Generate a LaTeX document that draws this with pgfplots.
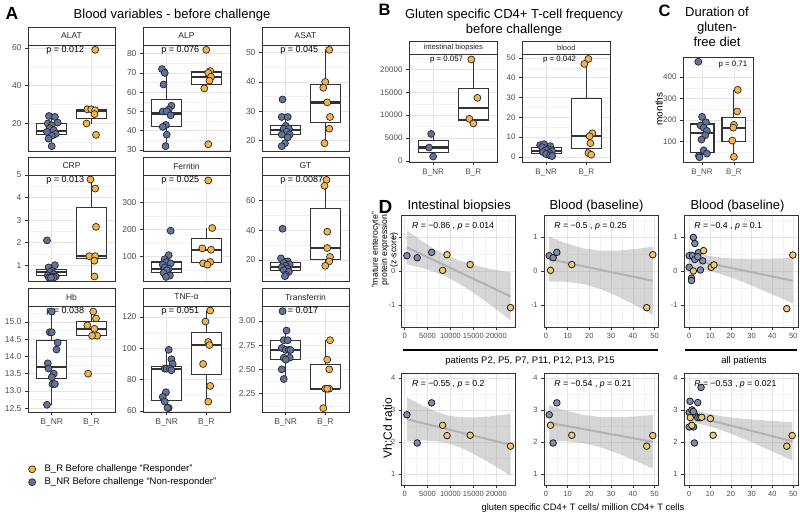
\documentclass[border=0pt]{standalone}
\usepackage{fontspec}
\setmainfont{Liberation Sans}
\usepackage{pgfplots}
\pgfplotsset{compat=1.18}
\definecolor{ornA}{RGB}{246,180,70}
\definecolor{bluA}{RGB}{98,114,158}
\definecolor{ornD}{RGB}{240,200,112}
\definecolor{bluD}{RGB}{128,141,175}
\definecolor{frame}{RGB}{51,51,51}
\definecolor{tlab}{RGB}{77,77,77}
\newcommand{\fs}[2]{\fontsize{#1}{#2}\selectfont}
\newcommand{\strip}[3]{\draw[draw=frame, line width=0.9pt, fill=white] (rel axis cs:0,1) rectangle ([yshift=#2]rel axis cs:1,1); \node[font=#3, text=black!85] at ([yshift=#2/2]rel axis cs:0.5,1) {#1};}
\newcommand{\pval}[4]{\node[anchor=west, font=#4] at (rel axis cs:#2,#3) {p = #1};}
\newcommand{\rtxt}[2]{\node[anchor=west, font=\fs{8.7}{10}] at (rel axis cs:0.06,0.9) {\textit{R} = −#1 , \textit{p} = #2};}
% box: left, centre, right, lower whisker, Q1, median, Q3, upper whisker
\newcommand{\mbx}[8]{%
\addplot[mb] coordinates {(#2,#4) (#2,#5)};
\addplot[mb] coordinates {(#2,#7) (#2,#8)};
\addplot[mb, fill=white] coordinates {(#1,#5) (#3,#5) (#3,#7) (#1,#7)} --cycle;
\addplot[mb, line width=2.3pt] coordinates {(#1,#6) (#3,#6)};}
\newcommand{\bA}[5]{\mbx{0.625}{1}{1.375}{#1}{#2}{#3}{#4}{#5}}
\newcommand{\bB}[5]{\mbx{1.625}{2}{2.375}{#1}{#2}{#3}{#4}{#5}}
\pgfplotsset{
 gg/.style={scale only axis, anchor=north west, clip=false,
   axis line style={draw=frame, line width=0.9pt},
   tick style={draw=frame, line width=0.6pt}, major tick length=3pt, minor tick length=0pt,
   tick align=outside, xtick pos=left, ytick pos=left,
   grid=both, major grid style={draw=black!10, line width=0.6pt}, minor grid style={draw=black!5, line width=0.35pt},
   ticklabel style={color=tlab},
   /pgf/number format/assume math mode=true,
   /pgf/number format/set thousands separator={},
   scaled ticks=false},
 af/.style={gg, width=87pt, height=106pt, xmin=0.4, xmax=2.6, xtick={1,2}, xticklabels={B\_NR,B\_R},
   ticklabel style={font=\fs{8.5}{10}}},
 anox/.style={xticklabels={}, xtick style={draw=none}},
 mb/.style={draw=frame, line width=1.1pt, forget plot},
 ptA/.style={only marks, mark=*, mark size=3.5pt, mark options={fill=#1, draw=black!85, line width=0.7pt}, forget plot},
 ptD/.style={only marks, mark=*, mark size=3.3pt, mark options={fill=#1, draw=black!90, line width=0.8pt}, forget plot},
 band/.style={fill=black!40, fill opacity=0.4, draw=none, forget plot},
 rline/.style={draw=black!30, line width=2pt, forget plot},
 dt/.style={gg, width=114pt, height=112pt, ymin=-1.65, ymax=1.65, ytick={-1,0,1}, minor ytick={-1.5,-0.5,0.5,1.5},
   ticklabel style={font=\fs{7.5}{9}}},
 db/.style={gg, width=114pt, height=112pt, ymin=0.66, ymax=4.15, ytick={1,2,3,4}, minor ytick={1.5,2.5,3.5},
   ticklabel style={font=\fs{7.5}{9}}},
 dx1/.style={xmin=-630, xmax=24230, xtick={0,5000,10000,15000,20000}, minor xtick={2500,7500,12500,17500,22500}},
 dx2/.style={xmin=-0.9, xmax=51.6, xtick={0,10,20,30,40,50}, minor xtick={5,15,25,35,45}},
 dx3/.style={xmin=-2.5, xmax=52.3, xtick={0,10,20,30,40,50}, minor xtick={5,15,25,35,45}},
}
\begin{document}
\begin{tikzpicture}
% ================= PANEL A =================
% ALAT
\begin{axis}[af, anox, at={(28pt,-45pt)}, ymin=5.45, ymax=61.55, ytick={20,40,60}, minor ytick={10,30,50}]
\bA{8}{14}{16}{20}{24}
\bB{20}{22.5}{26.5}{27.5}{27.5}
\addplot[ptA=bluA] coordinates {(0.93,24) (1.08,23.5) (1.15,20.5) (0.9,20) (1.0,19) (0.95,17.5) (1.05,16.5) (0.88,15.5) (1.1,14.5) (1.0,13.5) (0.92,12) (1.0,8)};
\addplot[ptA=ornA] coordinates {(2.1,59) (1.9,27.5) (2.0,27.5) (2.1,27) (2.08,25) (1.88,20) (2.12,14)};
\strip{ALAT}{18pt}{\fs{8.5}{10}}
\pval{0.012}{0.17}{0.953}{\fs{9}{10}}
\end{axis}
% ALP
\begin{axis}[af, anox, at={(143pt,-45pt)}, ymin=29.5, ymax=84.5, ytick={30,40,50,60,70,80}, minor ytick={35,45,55,65,75}]
\bA{32}{42}{49}{56}{72}
\bB{62}{64}{68}{70.5}{71}
\addplot[ptA=bluA] coordinates {(0.88,72) (0.95,70) (0.92,64) (1.12,53) (1.05,51) (0.9,50) (1.0,50) (1.1,48) (0.98,43) (0.9,42) (1.0,38) (0.97,32)};
\addplot[ptA=ornA] coordinates {(2.0,82) (2.1,71) (2.05,70) (2.12,68) (2.08,66) (1.95,62) (2.05,33)};
\strip{ALP}{18pt}{\fs{8.5}{10}}
\pval{0.076}{0.17}{0.953}{\fs{9}{10}}
\end{axis}
% ASAT
\begin{axis}[af, anox, at={(262pt,-45pt)}, ymin=16.35, ymax=52.65, ytick={20,30,40,50}, minor ytick={25,35,45}]
\bA{18}{22}{23.5}{25}{28}
\bB{19}{26}{33}{39}{51}
\addplot[ptA=bluA] coordinates {(0.92,34) (0.9,28) (1.05,28) (1.0,25) (0.95,24) (1.08,24) (1.02,23) (0.9,22) (1.1,22) (1.05,21) (0.98,19) (0.9,18)};
\addplot[ptA=ornA] coordinates {(2.1,51) (2.0,40) (1.95,38) (2.05,33) (2.12,28) (2.1,24) (1.98,19)};
\strip{ASAT}{18pt}{\fs{8.5}{10}}
\pval{0.045}{0.17}{0.953}{\fs{9}{10}}
\end{axis}
% CRP
\begin{axis}[af, anox, at={(28pt,-175pt)}, ymin=0.3, ymax=5.0, ytick={1,2,3,4,5}, minor ytick={1.5,2.5,3.5,4.5}]
\bA{0.45}{0.55}{0.7}{0.82}{1.0}
\bB{0.5}{1.3}{1.4}{3.55}{4.8}
\addplot[ptA=bluA] coordinates {(0.88,2.1) (1.08,1.0) (0.92,0.9) (1.0,0.75) (0.95,0.7) (1.05,0.6) (0.9,0.55) (1.1,0.5) (1.0,0.5) (0.93,0.45) (1.05,0.45) (0.98,0.45)};
\addplot[ptA=ornA] coordinates {(1.98,4.8) (2.1,4.4) (2.12,2.7) (1.95,1.4) (2.1,1.4) (2.08,1.2) (2.08,0.5)};
\strip{CRP}{18pt}{\fs{8.5}{10}}
\pval{0.013}{0.17}{0.953}{\fs{9}{10}}
\end{axis}
% Ferritin
\begin{axis}[af, anox, at={(143pt,-175pt)}, ymin=10, ymax=400, ytick={100,200,300}, minor ytick={50,150,250,350}]
\bA{25}{40}{55}{80}{105}
\bB{70}{77}{125}{168}{205}
\addplot[ptA=bluA] coordinates {(1.1,195) (1.05,105) (0.95,90) (1.0,80) (1.1,75) (0.9,70) (0.95,60) (1.05,55) (1.0,50) (0.92,40) (1.08,30) (0.98,25)};
\addplot[ptA=ornA] coordinates {(2.05,380) (2.15,205) (1.9,130) (2.12,125) (2.1,80) (1.92,75) (2.03,70)};
\strip{Ferritin}{18pt}{\fs{8.5}{10}}
\pval{0.025}{0.17}{0.953}{\fs{9}{10}}
\end{axis}
% GT
\begin{axis}[af, anox, at={(262pt,-175pt)}, ymin=5.75, ymax=77.25, ytick={20,40,60}, minor ytick={10,30,50,70}]
\bA{9}{13}{15}{18}{21}
\bB{16}{20.5}{28}{54.5}{74}
\addplot[ptA=bluA] coordinates {(0.92,41) (0.88,21) (1.05,19) (0.95,18) (1.1,17) (1.0,16) (0.9,15) (1.05,14) (0.95,13) (1.08,12) (1.0,10) (0.98,9)};
\addplot[ptA=ornA] coordinates {(2.03,74) (1.98,70) (2.05,39) (2.05,28) (2.12,22) (2.1,19) (2.0,16)};
\strip{GT}{18pt}{\fs{8.5}{10}}
\pval{0.0087}{0.17}{0.953}{\fs{9}{10}}
\end{axis}
% Hb
\begin{axis}[af, at={(28pt,-306pt)}, ymin=12.39, ymax=15.46, ytick={12.5,13,13.5,14,14.5,15}, minor ytick={12.75,13.25,13.75,14.25,14.75,15.25},
  yticklabel style={/pgf/number format/fixed, /pgf/number format/fixed zerofill, /pgf/number format/precision=1},
  legend style={at={(0.005,-0.48)}, anchor=north west, draw=none, fill=none, font=\fs{9.5}{11}, inner sep=0pt, row sep=0.5pt, column sep=7pt, cells={anchor=west}},
  legend image code/.code={\draw[#1] plot coordinates {(0pt,0pt)};}]
\addlegendimage{only marks, mark=*, mark size=3.5pt, mark options={fill=ornA, draw=black!85, line width=0.7pt}}
\addlegendentry{B\_R Before challenge “Responder”}
\addlegendimage{only marks, mark=*, mark size=3.5pt, mark options={fill=bluA, draw=black!85, line width=0.7pt}}
\addlegendentry{B\_NR Before challenge “Non-responder”}
\bA{12.6}{13.35}{13.7}{14.47}{15.3}
\bB{14.6}{14.6}{14.8}{15.0}{15.3}
\addplot[ptA=bluA] coordinates {(1.0,15.3) (0.95,14.7) (1.0,14.7) (1.15,14.4) (1.12,14.2) (0.9,13.8) (0.92,13.65) (1.05,13.5) (1.0,13.4) (1.02,13.2) (1.08,13.2) (0.88,12.6)};
\addplot[ptA=ornA] coordinates {(2.05,15.3) (2.12,15.1) (1.9,14.9) (2.08,14.8) (2.15,14.6) (2.02,14.6) (1.92,13.5)};
\strip{Hb}{18pt}{\fs{8.5}{10}}
\pval{0.038}{0.17}{0.953}{\fs{9}{10}}
\end{axis}
% TNF
\begin{axis}[af, at={(143pt,-306pt)}, ymin=59.4, ymax=126.9, ytick={60,80,100,120}, minor ytick={70,90,110}]
\bA{62}{67}{87}{88.5}{99}
\bB{66}{83}{102}{110}{124}
\addplot[ptA=bluA] coordinates {(1.05,99) (1.12,93) (1.15,90) (0.95,87) (1.0,87) (1.08,87) (1.12,86) (0.98,72) (0.9,69) (0.95,66) (1.05,62) (1.02,62)};
\addplot[ptA=ornA] coordinates {(2.1,124) (1.98,117) (2.05,104) (2.08,102) (1.92,90) (2.1,76) (2.05,66)};
\strip{TNF-α}{18pt}{\fs{8.5}{10}}
\pval{0.051}{0.17}{0.953}{\fs{9}{10}}
\end{axis}
% Transferrin
\begin{axis}[af, at={(262pt,-306pt)}, ymin=2.06, ymax=3.153, ytick={2.25,2.5,2.75,3}, minor ytick={2.125,2.375,2.625,2.875,3.125},
  yticklabel style={/pgf/number format/fixed, /pgf/number format/fixed zerofill, /pgf/number format/precision=2}]
\bA{2.4}{2.6}{2.7}{2.8}{2.9}
\bB{2.1}{2.3}{2.3}{2.55}{2.8}
\addplot[ptA=bluA] coordinates {(0.92,3.1) (1.02,2.9) (0.95,2.8) (1.05,2.8) (0.9,2.72) (1.0,2.7) (1.08,2.7) (1.12,2.7) (0.95,2.62) (1.1,2.62) (1.0,2.6) (0.9,2.5) (0.95,2.4)};
\addplot[ptA=ornA] coordinates {(2.12,2.8) (2.05,2.6) (2.1,2.5) (2.0,2.3) (2.1,2.3) (2.05,2.3) (1.95,2.1)};
\strip{Transferrin}{18pt}{\fs{8.5}{10}}
\pval{0.017}{0.17}{0.953}{\fs{9}{10}}
\end{axis}
% ================= PANEL B =================
\begin{axis}[af, at={(409pt,-54pt)}, width=88.5pt, height=108pt, ymin=-250, ymax=23400, ytick={0,5000,10000,15000,20000}, minor ytick={2500,7500,12500,17500,22500}, ticklabel style={font=\fs{8}{9.5}}]
\bA{950}{1925}{2900}{4400}{5900}
\bB{8200}{8950}{11500}{15900}{22200}
\addplot[ptA=bluA] coordinates {(0.95,5900) (0.9,2900) (1.0,950)};
\addplot[ptA=ornA] coordinates {(1.95,22200) (2.1,13800) (1.9,9200) (2.0,8200)};
\strip{intestinal biopsies}{13pt}{\fs{7.5}{9}}
\pval{0.057}{0.2}{0.944}{\fs{7.8}{9}}
\end{axis}
\begin{axis}[af, at={(522pt,-54pt)}, width=88.5pt, height=108pt, ymin=-2.5, ymax=52, ytick={0,10,20,30,40,50}, minor ytick={5,15,25,35,45}, ticklabel style={font=\fs{8}{9.5}}]
\bA{0.5}{2}{3}{5}{6.5}
\bB{1.2}{4.5}{10.5}{29.5}{49.5}
\addplot[ptA=bluA] coordinates {(0.85,6.0) (0.95,6.5) (1.1,5.5) (0.9,5) (1.05,4) (1.0,3.5) (1.15,3) (0.92,2.5) (1.08,2) (1.0,1.5) (1.1,0.8) (1.15,0.5)};
\addplot[ptA=ornA] coordinates {(2.05,49.5) (1.95,47) (2.15,12) (2.08,10.5) (2.1,7) (2.05,2) (2.12,1.2)};
\strip{blood}{13pt}{\fs{7.5}{9}}
\pval{0.042}{0.2}{0.944}{\fs{7.8}{9}}
\end{axis}
% ================= PANEL C =================
\begin{axis}[af, at={(683pt,-57pt)}, width=70pt, height=105pt, ymin=6, ymax=492, ytick={100,200,300,400}, minor ytick={50,150,250,350,450}, ticklabel style={font=\fs{8}{9.5}}]
\bA{28}{52}{140}{182}{215}
\bB{30}{100}{165}{210}{340}
\addplot[ptA=bluA] coordinates {(0.88,470) (1.0,215) (1.12,190) (0.95,175) (1.05,165) (1.15,150) (1.1,130) (0.98,110) (1.05,60) (1.15,45) (0.9,35) (0.92,28)};
\addplot[ptA=ornA] coordinates {(2.12,340) (2.1,240) (2.0,178) (1.98,165) (1.95,105) (2.0,30)};
\pval{0.71}{0.46}{0.924}{\fs{7.8}{9}}
\end{axis}
% ================= PANEL D =================
\begin{axis}[dt, dx1, at={(401.7pt,-215pt)}]
\addplot[band] coordinates {(500,1.195) (4000,0.863) (7000,0.611) (9157,0.458) (12000,0.302) (15000,0.179) (18000,0.084) (23100,-0.049) (23100,-1.447) (18000,-0.928) (15000,-0.640) (12000,-0.379) (9157,-0.173) (7000,-0.049) (4000,0.081) (500,0.196)} --cycle;
\addplot[rline] coordinates {(500,0.6958) (23100,-0.7476)};
\addplot[ptD=bluD] coordinates {(500,0.45) (2750,0.39) (5900,0.55)};
\addplot[ptD=ornD] coordinates {(8300,0.02) (9250,0.48) (14300,0.19) (23100,-1.08)};
\rtxt{0.86}{0.014}
\end{axis}
\begin{axis}[dt, dx2, at={(544pt,-215pt)}]
\addplot[band] coordinates {(1.5,1.020) (8,0.842) (17,0.668) (25,0.602) (33,0.603) (41,0.647) (49.2,0.715) (49.2,-1.292) (41,-1.004) (33,-0.746) (25,-0.529) (17,-0.381) (8,-0.313) (1.5,-0.316)} --cycle;
\addplot[rline] coordinates {(1.5,0.3518) (49.2,-0.2887)};
\addplot[ptD=bluD] coordinates {(1.5,0.45) (3.3,0.39) (5.0,0.55)};
\addplot[ptD=ornD] coordinates {(2.1,0.02) (49.2,0.48) (11.9,0.19) (46.4,-1.08)};
\rtxt{0.5}{0.25}
\end{axis}
\begin{axis}[dt, dx3, at={(684pt,-215pt)}]
\addplot[band] coordinates {(0,0.606) (5,0.512) (9,0.453) (15,0.396) (22,0.366) (30,0.359) (38,0.364) (49.8,0.382) (49.8,-0.955) (38,-0.637) (30,-0.429) (22,-0.233) (15,-0.085) (9,0.011) (5,0.053) (0,0.086)} --cycle;
\addplot[rline] coordinates {(0,0.346) (49.8,-0.2866)};
\addplot[ptD=bluD] coordinates {(2.0,0.99) (2.7,0.81) (0,0.45) (1.6,0.45) (4.4,0.54) (2.7,0.34) (4.1,0.42) (6.5,0.30) (0,0.11) (5.4,0.03) (1.1,-0.21) (1.1,-0.28)};
\addplot[ptD=ornD] coordinates {(6.9,0.60) (2.0,0.00) (10.6,0.11) (11.9,0.18) (49.8,0.47) (46.9,-1.11)};
\rtxt{0.4}{0.1}
\end{axis}
\begin{axis}[db, dx1, at={(401.7pt,-373pt)}]
\addplot[band] coordinates {(500,3.398) (4000,3.125) (7000,2.936) (9157,2.840) (12000,2.773) (15000,2.763) (18000,2.789) (23100,2.874) (23100,0.952) (18000,1.398) (15000,1.636) (12000,1.838) (9157,1.972) (7000,2.028) (4000,2.050) (500,2.025)} --cycle;
\addplot[rline] coordinates {(500,2.7115) (23100,1.9132)};
\addplot[ptD=bluD] coordinates {(500,2.85) (2750,1.97) (5900,3.22)};
\addplot[ptD=ornD] coordinates {(8300,2.52) (9250,2.2) (14300,2.21) (23100,1.87)};
\rtxt{0.55}{0.2}
\end{axis}
\begin{axis}[db, dx2, at={(544pt,-373pt)}]
\addplot[band] coordinates {(1.5,3.156) (8,2.999) (17,2.844) (25,2.779) (33,2.770) (41,2.796) (49.2,2.843) (49.2,1.171) (41,1.421) (33,1.646) (25,1.836) (17,1.969) (8,2.037) (1.5,2.042)} --cycle;
\addplot[rline] coordinates {(1.5,2.599) (49.2,2.0068)};
\addplot[ptD=bluD] coordinates {(1.5,2.85) (3.3,1.97) (5.0,3.22)};
\addplot[ptD=ornD] coordinates {(2.1,2.52) (49.2,2.2) (11.9,2.21) (46.4,1.87)};
\rtxt{0.54}{0.21}
\end{axis}
\begin{axis}[db, dx3, at={(684pt,-373pt)}]
\addplot[band] coordinates {(0,3.065) (5,2.957) (8.2,2.899) (15,2.808) (22,2.748) (30,2.701) (38,2.664) (49.6,2.619) (49.6,1.426) (38,1.764) (30,1.992) (22,2.210) (15,2.381) (8.2,2.515) (5,2.563) (0,2.620)} --cycle;
\addplot[rline] coordinates {(0,2.8422) (49.6,2.0225)};
\addplot[ptD=bluD] coordinates {(5.7,3.70) (0.4,3.27) (4.1,3.23) (0.0,2.92) (1.3,3.00) (2.4,2.87) (2.0,2.95) (4.1,2.76) (5.2,2.76) (0.0,2.47) (2.1,2.47) (2.5,1.97)};
\addplot[ptD=ornD] coordinates {(0.5,2.76) (1.3,2.52) (6.0,2.77) (10.2,2.73) (11.5,2.21) (49.5,2.20) (46.9,1.87)};
\rtxt{0.53}{0.021}
\end{axis}
% ================= TEXT =================
\node[anchor=base west, font=\fs{17.5}{20}\bfseries] at (2pt,-19.3pt) {A};
\node[anchor=base, font=\fs{13}{15}] at (172pt,-18pt) {Blood variables - before challenge};
\node[anchor=base west, font=\fs{16.5}{19}\bfseries] at (375pt,-15.5pt) {B};
\node[anchor=base, font=\fs{13}{15}] at (514pt,-18.5pt) {Gluten specific CD4+ T-cell frequency};
\node[anchor=base, font=\fs{13}{15}] at (514pt,-33.5pt) {before challenge};
\node[anchor=base west, font=\fs{16.5}{19}\bfseries] at (655pt,-16.7pt) {C};
\node[anchor=base, font=\fs{13}{15}] at (717pt,-16.5pt) {Duration of};
\node[anchor=base, font=\fs{13}{15}] at (717pt,-31pt) {gluten-};
\node[anchor=base, font=\fs{13}{15}] at (717pt,-46pt) {free diet};
\node[rotate=90, font=\fs{10}{12}] at (659pt,-109pt) {months};
\node[anchor=base west, font=\fs{19}{21}\bfseries] at (375pt,-213.3pt) {D};
\node[anchor=base west, font=\fs{13}{15}] at (404pt,-209.5pt) {Intestinal biopsies};
\node[anchor=base west, font=\fs{13}{15}] at (546pt,-209.5pt) {Blood (baseline)};
\node[anchor=base west, font=\fs{13}{15}] at (687pt,-209.5pt) {Blood (baseline)};
\node[rotate=90, align=center, font=\fs{8.7}{9.2}] at (385pt,-250pt) {"mature enterocyte"\\protein expression\\(z-score)};
\draw[black, line width=1.3pt] (403pt,-350pt) -- (658pt,-350pt);
\draw[black, line width=1.3pt] (685pt,-350pt) -- (797pt,-350pt);
\node[anchor=base, font=\fs{9.5}{11}] at (530pt,-363pt) {patients P2, P5, P7, P11, P12, P13, P15};
\node[anchor=base, font=\fs{9.5}{11}] at (744pt,-363pt) {all patients};
\node[rotate=90, font=\fs{12}{14}] at (387.5pt,-428pt) {Vh:Cd ratio};
\node[anchor=base, font=\fs{9.3}{11}] at (583pt,-510pt) {gluten specific CD4+ T cells/ million CD4+ T cells};
\pgfresetboundingbox
\path (0pt,0pt) rectangle (800pt,-514pt);
\end{tikzpicture}
\end{document}
